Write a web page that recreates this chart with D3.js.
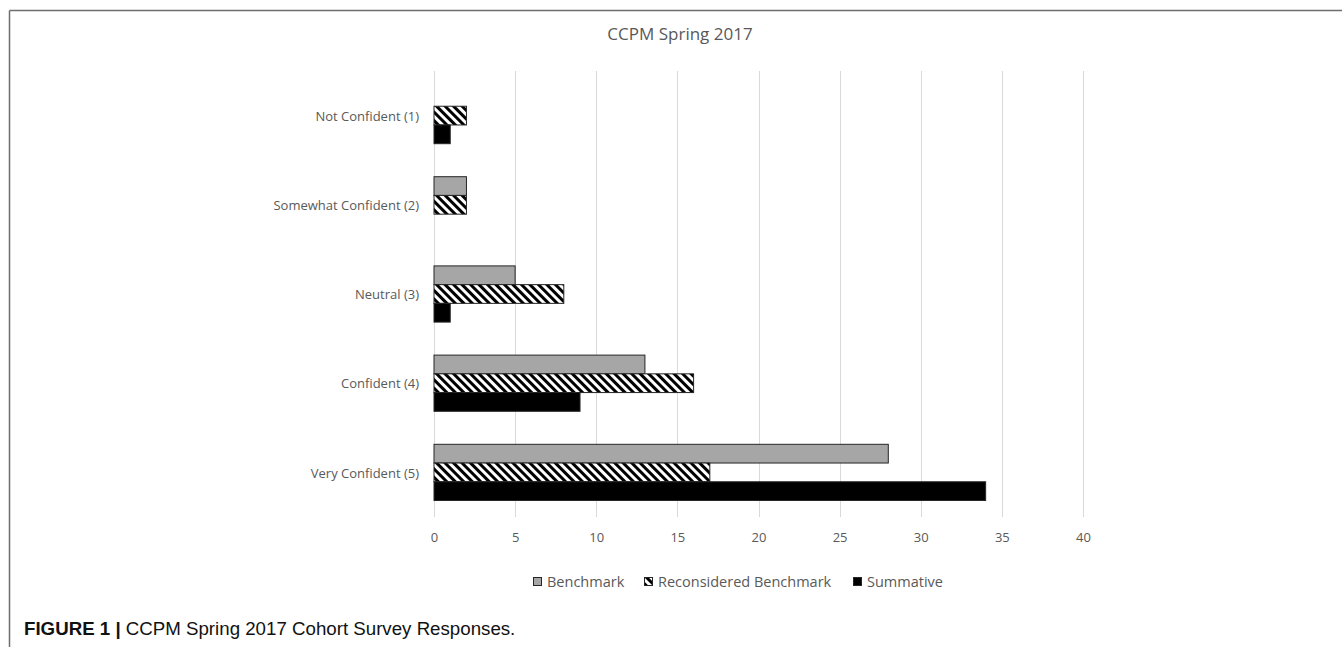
<!DOCTYPE html>
<html>
<head>
<meta charset="utf-8">
<script src="https://cdn.jsdelivr.net/npm/d3@7"></script>
<style>
  html, body { margin: 0; padding: 0; background: #fff; }
  svg { display: block; }
</style>
</head>
<body>
<svg id="chart" width="1342" height="647"></svg>
<script>
const categories = ["Not Confident (1)", "Somewhat Confident (2)", "Neutral (3)", "Confident (4)", "Very Confident (5)"];
const seriesNames = ["Benchmark", "Reconsidered Benchmark", "Summative"];
const benchmark = [0, 2, 5, 13, 28];
const reconsidered = [2, 2, 8, 16, 17];
const summative = [1, 0, 1, 9, 34];
const xTicks = [0, 5, 10, 15, 20, 25, 30, 35, 40];
const titleText = "CCPM Spring 2017";
const captionBold = "FIGURE 1 |";
const captionText = " CCPM Spring 2017 Cohort Survey Responses.";

const seriesValues = [benchmark, reconsidered, summative];
const fills = ["#a6a6a6", "url(#hatch)", "#000000"];

const svg = d3.select("#chart");
const W = 1342, H = 647;
const m = { left: 434, right: 1083, top: 71, bottom: 517 };
const FONT = "Open Sans, sans-serif";
const TXT = "#595959";

const defs = svg.append("defs");
const pat = defs.append("pattern")
  .attr("id", "hatch")
  .attr("patternUnits", "userSpaceOnUse")
  .attr("width", 6).attr("height", 6)
  .attr("patternTransform", "rotate(-45)");
pat.append("rect").attr("width", 6).attr("height", 6).attr("fill", "#fff");
pat.append("rect").attr("x", 0).attr("y", 0).attr("width", 3).attr("height", 6).attr("fill", "#000");

// frame
svg.append("line").attr("x1", 9.5).attr("x2", W).attr("y1", 10.5).attr("y2", 10.5)
  .attr("stroke", "#6e6e6e").attr("stroke-width", 1.5);
svg.append("line").attr("x1", 9.5).attr("x2", 9.5).attr("y1", 10.5).attr("y2", H)
  .attr("stroke", "#6e6e6e").attr("stroke-width", 1.5);

const x = d3.scaleLinear().domain([0, 40]).range([m.left, m.right]);
const y = d3.scaleBand().domain(categories).range([m.top, m.bottom]).paddingInner(0.37).paddingOuter(0.185);
const ySub = d3.scaleBand().domain(seriesNames).range([0, y.bandwidth()]);

// gridlines
svg.append("g").selectAll("line").data(xTicks).join("line")
  .attr("x1", d => Math.round(x(d)) + 0.5).attr("x2", d => Math.round(x(d)) + 0.5)
  .attr("y1", m.top).attr("y2", m.bottom)
  .attr("stroke", "#d9d9d9").attr("stroke-width", 1);

// x axis labels
const xAxis = d3.axisBottom(x).tickValues(xTicks).tickSize(0).tickPadding(0);
const gx = svg.append("g").attr("transform", `translate(0,542)`).call(xAxis);
gx.select(".domain").remove();
gx.selectAll("text").attr("font-family", FONT).attr("font-size", 13).attr("fill", TXT).attr("dy", "0").attr("y", 0);

// y axis labels
const yAxis = d3.axisLeft(y).tickSize(0).tickPadding(0);
const gy = svg.append("g").attr("transform", `translate(${m.left - 15},1)`).call(yAxis);
gy.select(".domain").remove();
gy.selectAll("text").attr("font-family", FONT).attr("font-size", 13).attr("fill", TXT);

// bars
const groups = svg.append("g").selectAll("g").data(categories).join("g")
  .attr("transform", d => `translate(0,${y(d)})`);
groups.selectAll("rect").data((c, i) => seriesNames.map((s, j) => ({ s, j, v: seriesValues[j][i] })))
  .join("rect")
  .filter(d => d.v > 0)
  .attr("x", x(0))
  .attr("y", d => ySub(d.s))
  .attr("width", d => x(d.v) - x(0))
  .attr("height", ySub.bandwidth())
  .attr("fill", d => fills[d.j])
  .attr("stroke", "#262626")
  .attr("stroke-width", 1);

// title
svg.append("text").attr("x", 680).attr("y", 40).attr("text-anchor", "middle")
  .attr("font-family", FONT).attr("font-size", 17).attr("fill", TXT).text(titleText);

// legend
const legendX = [533, 644, 853];
const lg = svg.append("g").selectAll("g").data(seriesNames).join("g")
  .attr("transform", (d, i) => `translate(${legendX[i]},577)`);
lg.append("rect").attr("x", 0.5).attr("y", 0.5).attr("width", 8).attr("height", 8)
  .attr("fill", (d, i) => fills[i]).attr("stroke", "#262626").attr("stroke-width", 1);
lg.append("text").attr("x", 14).attr("y", 9.5)
  .attr("font-family", FONT).attr("font-size", 14.5).attr("fill", TXT).text(d => d);

// caption
const cap = svg.append("text").attr("x", 24).attr("y", 635)
  .attr("font-family", "Liberation Sans, Arial, sans-serif").attr("font-size", 18.7).attr("fill", "#111");
cap.append("tspan").attr("font-weight", "bold").text(captionBold);
cap.append("tspan").text(captionText);
</script>
</body>
</html>
